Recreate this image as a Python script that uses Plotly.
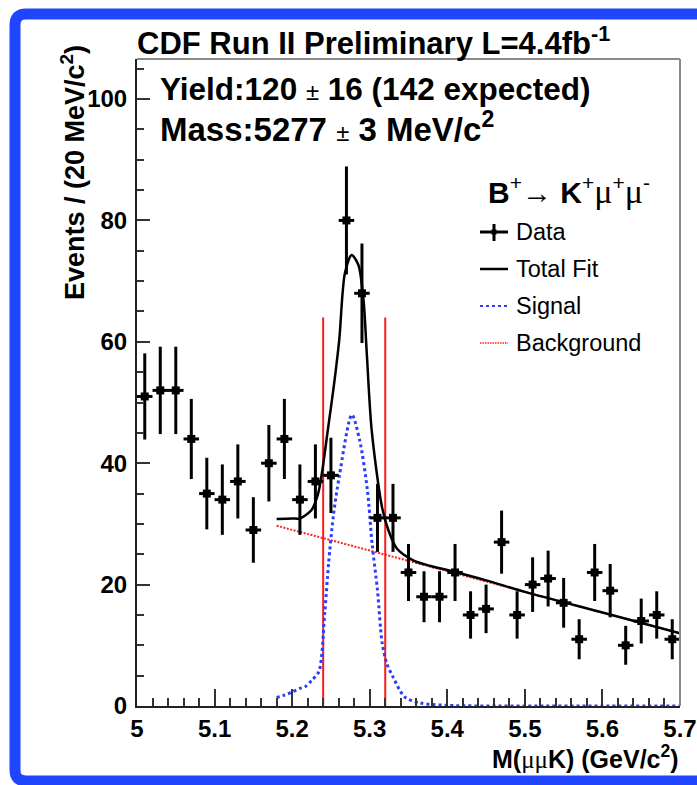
import plotly.graph_objects as go

# ---------------- data ----------------
bin_centers = [5.01, 5.03, 5.05, 5.07, 5.09, 5.11, 5.13, 5.15, 5.17, 5.19,
               5.21, 5.23, 5.25, 5.27, 5.29, 5.31, 5.33, 5.35, 5.37, 5.39,
               5.41, 5.43, 5.45, 5.47, 5.49, 5.51, 5.53, 5.55, 5.57, 5.59,
               5.61, 5.63, 5.65, 5.67, 5.69]
events = [51, 52, 52, 44, 35, 34, 37, 29, 40, 44,
          34, 37, 38, 80, 68, 31, 31, 22, 18, 18,
          22, 15, 16, 27, 15, 20, 21, 17, 11, 22,
          19, 10, 14, 15, 11]
events_err = [7.1, 7.2, 7.2, 6.6, 5.9, 5.8, 6.1, 5.4, 6.3, 6.6,
              5.8, 6.1, 6.2, 8.9, 8.2, 5.6, 5.6, 4.7, 4.2, 4.2,
              4.7, 3.9, 4.0, 5.2, 3.9, 4.5, 4.6, 4.1, 3.3, 4.7,
              4.4, 3.2, 3.7, 3.9, 3.3]

total_x = [5.18, 5.20, 5.21, 5.225, 5.2335, 5.239, 5.246, 5.2536, 5.2607,
           5.268, 5.2767, 5.2853, 5.292, 5.296, 5.3025, 5.3158, 5.324,
           5.3347, 5.3561, 5.3775, 5.40, 5.45, 5.50, 5.60, 5.70]
total_y = [30.8, 30.9, 30.9, 32.3, 35.0, 38.9, 45.5, 52.6, 60.3,
           71.3, 74.3, 72.7, 66.9, 58.6, 45.5, 32.8, 29.0,
           26.0, 24.0, 23.1, 22.4, 20.7, 18.8, 15.4, 12.0]

signal_x = [5.18, 5.19, 5.20, 5.21, 5.217, 5.225, 5.2345, 5.242, 5.247, 5.253,
            5.2607, 5.277, 5.287, 5.297, 5.303, 5.310, 5.316, 5.322, 5.330,
            5.345, 5.365, 5.40, 5.50, 5.60, 5.70]
signal_y = [1.4, 1.8, 2.3, 2.9, 3.2, 4.2, 5.7, 15.3, 23.5, 31.2,
            37.8, 48.0, 43.8, 35.6, 26.8, 19.1, 10.4, 7.0, 4.8,
            1.5, 0.5, 0.1, 0.0, 0.0, 0.0]

background_x = [5.18, 5.70]
background_y = [29.7, 12.0]

window_x = [5.24, 5.32]
window_top = 64

x_tickvals = [5.0, 5.1, 5.2, 5.3, 5.4, 5.5, 5.6, 5.7]
x_ticktext = ["5", "5.1", "5.2", "5.3", "5.4", "5.5", "5.6", "5.7"]
y_tickvals = [0, 20, 40, 60, 80, 100]
y_ticktext = ["0", "20", "40", "60", "80", "100"]

# ---------------- geometry helpers (pixel -> paper) ----------------
W, H = 697, 785
L, R, T, B = 137, 680, 59, 706


def px(x):
    return (x - L) / (R - L)


def py(y):
    return (B - y) / (B - T)


FONT = "Liberation Sans"
BLUE = "#1f45ff"

fig = go.Figure()

# window lines
for wx in window_x:
    fig.add_trace(go.Scatter(x=[wx, wx], y=[0, window_top], mode="lines",
                             line=dict(color="#ff1a1a", width=2), hoverinfo="skip"))

fig.add_trace(go.Scatter(x=background_x, y=background_y, mode="lines",
                         line=dict(color="#ff2020", width=2, dash="2px,1.5px"),
                         name="Background"))
fig.add_trace(go.Scatter(x=signal_x, y=signal_y, mode="lines",
                         line=dict(color="#2a3cff", width=3, dash="dot", shape="spline", smoothing=0.8),
                         name="Signal"))
fig.add_trace(go.Scatter(x=total_x, y=total_y, mode="lines",
                         line=dict(color="black", width=2.5, shape="spline", smoothing=0.8),
                         name="Total Fit"))
fig.add_trace(go.Scatter(x=bin_centers, y=events, mode="markers",
                         marker=dict(symbol="square", size=8, color="black"),
                         error_y=dict(type="data", array=events_err, color="black", thickness=3, width=0),
                         error_x=dict(type="constant", value=0.01, color="black", thickness=3, width=0),
                         name="Data"))

tickfont = dict(family=FONT, size=24, color="black", weight="bold")
fig.update_xaxes(range=[5.0, 5.7], tickmode="array", tickvals=x_tickvals, ticktext=x_ticktext,
                 ticks="inside", ticklen=17, tickwidth=1.5, tickcolor="#333",
                 minor=dict(tickmode="linear", tick0=5.0, dtick=0.02, ticks="inside",
                            ticklen=8, tickwidth=1.5, tickcolor="#333"),
                 showline=True, linecolor="#222", linewidth=2, showgrid=False, zeroline=False,
                 tickfont=tickfont, ticklabelstandoff=0, automargin=False)
fig.update_yaxes(range=[0, 106.6], tickmode="array", tickvals=y_tickvals, ticktext=y_ticktext,
                 ticks="inside", ticklen=13, tickwidth=1.5, tickcolor="#333",
                 minor=dict(tickmode="linear", tick0=0, dtick=5, ticks="inside",
                            ticklen=7, tickwidth=1.5, tickcolor="#333"),
                 showline=True, linecolor="#222", linewidth=2, showgrid=False, zeroline=False,
                 tickfont=tickfont, ticklabelstandoff=3, automargin=False)

shapes = []
# top & right frame (grey)
shapes.append(dict(type="line", xref="paper", yref="paper", x0=0, x1=1, y0=1, y1=1,
                   line=dict(color="#8a8a8a", width=2)))
shapes.append(dict(type="line", xref="paper", yref="paper", x0=1, x1=1, y0=0, y1=1,
                   line=dict(color="#8a8a8a", width=2)))

# slide border (blue)
path = ("M {a},{b} L {c},{b} Q {d},{b} {d},{e} L {d},{f} Q {d},{g} {c},{g} L {a},{g}"
        .format(a=px(705), b=py(14), c=px(26), d=px(15), e=py(25), f=py(770), g=py(781)))
shapes.append(dict(type="path", xref="paper", yref="paper", path=path,
                   line=dict(color=BLUE, width=11)))

# manual legend symbols
shapes.append(dict(type="line", xref="paper", yref="paper", x0=px(480), x1=px(508), y0=py(232), y1=py(232),
                   line=dict(color="black", width=3)))
shapes.append(dict(type="line", xref="paper", yref="paper", x0=px(494), x1=px(494), y0=py(224), y1=py(241),
                   line=dict(color="black", width=3)))
shapes.append(dict(type="rect", xref="paper", yref="paper", x0=px(491.5), x1=px(496.5), y0=py(229.5), y1=py(234.5),
                   fillcolor="black", line=dict(width=0)))
shapes.append(dict(type="line", xref="paper", yref="paper", x0=px(480), x1=px(508), y0=py(269), y1=py(269),
                   line=dict(color="black", width=2.5)))
shapes.append(dict(type="line", xref="paper", yref="paper", x0=px(480), x1=px(508), y0=py(306), y1=py(306),
                   line=dict(color="#2a3cff", width=2, dash="dot")))
shapes.append(dict(type="line", xref="paper", yref="paper", x0=px(480), x1=px(508), y0=py(343), y1=py(343),
                   line=dict(color="#ff2020", width=1.5, dash="1.5px,1px")))

annotations = []


def txt(text, x, y, size, xanchor="left", yanchor="middle", angle=0, weight="normal"):
    annotations.append(dict(text=text, x=px(x), y=py(y), xref="paper", yref="paper",
                            xanchor=xanchor, yanchor=yanchor, showarrow=False, textangle=angle,
                            font=dict(family=FONT, size=size, color="black", weight=weight)))


SERIF = "font-family:Liberation Serif"
txt("<b>CDF Run II Preliminary L=4.4fb<sup>-1</sup></b>", 135, 41, 31)
txt("<b>Yield:120 </b><span style='font-size:24px'>±</span><b> 16 (142 expected)</b>", 158, 89, 31.5)
txt("<b>Mass:5277 </b><span style='font-size:24px'>±</span><b> 3 MeV/c<sup>2</sup></b>", 158, 127, 33)
txt("<b>B</b><sup>+</sup><span style='font-size:30px'>→</span> <b>K</b><sup>+</sup>"
    "<span style='" + SERIF + ";font-size:34px'>μ</span><sup>+</sup>"
    "<span style='" + SERIF + ";font-size:34px'>μ</span><sup>-</sup>", 486, 190, 30)
txt("Data", 514, 232, 23.5)
txt("Total Fit", 514, 269, 23.5)
txt("Signal", 514, 306, 23.5)
txt("Background", 514, 343, 23.5)
txt("<b>Events / (20 MeV/c<sup>2</sup>)</b>", 73, 173, 27, xanchor="center", angle=-90)
txt("<b>M(</b><span style='" + SERIF + "'>μμ</span><b>K) (GeV/c<sup>2</sup>)</b>",
    681, 757, 25, xanchor="right")

fig.update_layout(width=W, height=H, margin=dict(l=L, r=W - R, t=T, b=H - B, autoexpand=False),
                  plot_bgcolor="white", paper_bgcolor="white", showlegend=False,
                  shapes=shapes, annotations=annotations)

fig.write_html("out.html")
